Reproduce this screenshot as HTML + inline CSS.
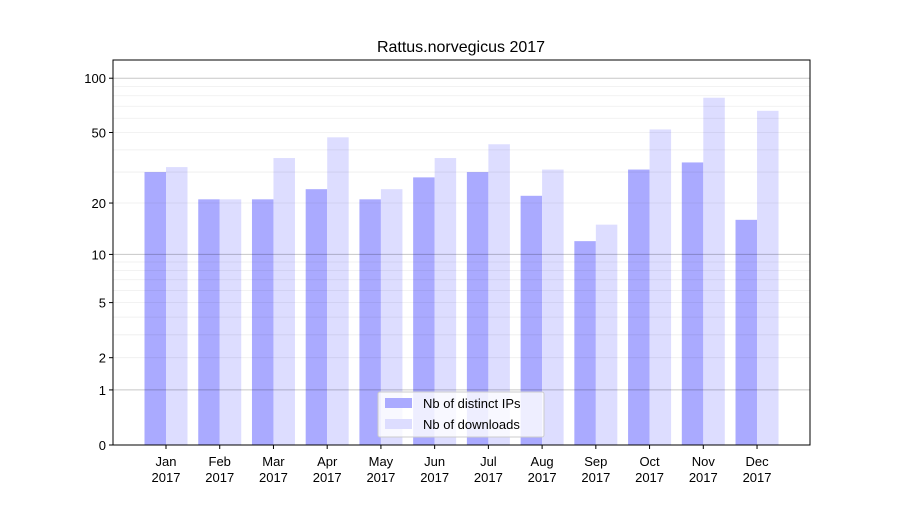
<!DOCTYPE html>
<html><head><meta charset="utf-8"><style>
body{margin:0;background:#fff;font-family:"Liberation Sans","DejaVu Sans",sans-serif}
</style></head><body>
<svg id="chart" width="900" height="500" xmlns="http://www.w3.org/2000/svg" font-family="Liberation Sans, DejaVu Sans, sans-serif">
<rect width="900" height="500" fill="#fff"/>
<text x="461" y="52" text-anchor="middle" font-size="16">Rattus.norvegicus 2017</text>
<g id="bars"></g><g id="grid"></g><g id="axes"></g>
<g>
<rect x="378" y="392" width="166" height="45" fill="#fff" fill-opacity="0.8" stroke="#ccc" rx="2"/>
<rect x="385" y="398" width="27" height="10" fill="#aaaaff"/>
<text x="423" y="408" font-size="13">Nb of distinct IPs</text>
<rect x="385" y="419" width="27" height="10" fill="#ddddff"/>
<text x="423" y="429" font-size="13">Nb of downloads</text>
</g>
</svg>
<script>
const months = ["Jan","Feb","Mar","Apr","May","Jun","Jul","Aug","Sep","Oct","Nov","Dec"];
const ips = [30,21,21,24,21,28,30,22,12,31,34,16];
const downloads = [32,21,36,47,24,36,43,31,15,52,78,66];
const yTicks = [0,1,2,5,10,20,50,100];
const NS="http://www.w3.org/2000/svg";
const L=113,R=810,T=60,B=445;
function y(v){return B-183*Math.log10(1+v);}
function xc(i){return 166+i*53.73;}
function mk(parent,tag,attrs){const e=document.createElementNS(NS,tag);for(const k in attrs)e.setAttribute(k,attrs[k]);document.getElementById(parent).appendChild(e);return e;}
for(const d of [1,10]){for(let m=1;m<10;m++){const v=d*m;const major=(m===1);
 const g=mk("grid","line",{x1:L,x2:R,y1:y(v),y2:y(v),stroke:"#000","stroke-opacity":major?0.22:0.07,"stroke-width":major?1:0.8});
 
 }}
const g100=mk("grid","line",{x1:L,x2:R,y1:y(100),y2:y(100),stroke:"#000","stroke-opacity":0.22});


const w=21.5;
months.forEach((m,i)=>{
 const a=mk("bars","rect",{x:xc(i)-w,y:y(ips[i]),width:w,height:B-y(ips[i]),fill:"#aaaaff"});
 
 
 const b=mk("bars","rect",{x:xc(i),y:y(downloads[i]),width:w,height:B-y(downloads[i]),fill:"#ddddff"});
 
 
 const t=mk("axes","text",{x:xc(i),y:466,"text-anchor":"middle","font-size":13});
 t.textContent=m;
 
 
 const t2=mk("axes","text",{x:xc(i),y:482,"text-anchor":"middle","font-size":13});
 t2.textContent="2017";
 
 
 mk("axes","line",{x1:xc(i),x2:xc(i),y1:B,y2:B+4,stroke:"#000"});
});
yTicks.forEach(v=>{
 mk("axes","line",{x1:L-4,x2:L,y1:y(v),y2:y(v),stroke:"#000"});
 const t=mk("axes","text",{x:L-7,y:y(v)+5,"text-anchor":"end","font-size":13});
 t.textContent=v;
 
 
});
const fr=mk("axes","rect",{x:L,y:T,width:R-L,height:B-T,fill:"none",stroke:"#000"});


</script>
</body></html>
